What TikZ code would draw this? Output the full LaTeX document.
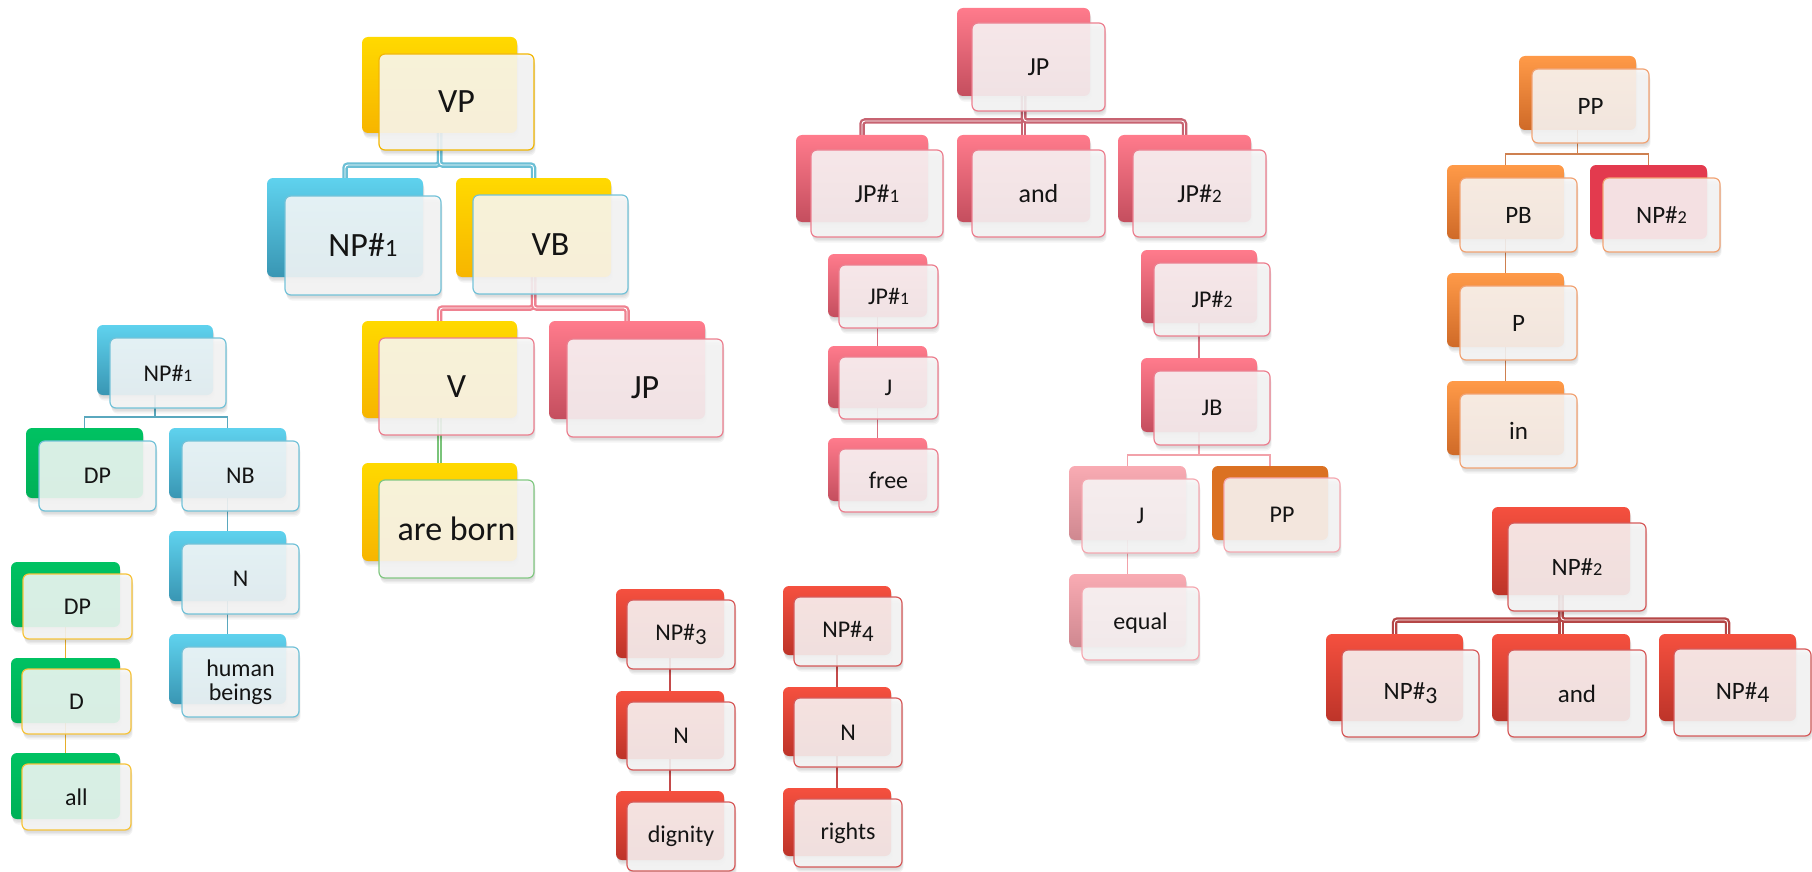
\documentclass[tikz,border=0pt]{standalone}
\usepackage{fontspec}
\setmainfont{Carlito}
% old-style figures: x-height ones and descending ones
\newcommand\fig[1]{\scalebox{0.73}{#1}}
\newcommand\figd[1]{\raisebox{-0.15em}{\scalebox{0.95}{#1}}}
\usetikzlibrary{calc}
\pgfdeclarelayer{bg}
\pgfsetlayers{bg,main}

% back plate gradients
\definecolor{yelT}{HTML}{FFD900}\definecolor{yelB}{HTML}{F7B500}
\definecolor{bluT}{HTML}{5FD2EE}\definecolor{bluB}{HTML}{3996B3}
\definecolor{grnT}{HTML}{00C262}\definecolor{grnB}{HTML}{00B058}
\definecolor{pnkT}{HTML}{FF7B8C}\definecolor{pnkB}{HTML}{C44E5E}
\definecolor{lpkT}{HTML}{F9ABB3}\definecolor{lpkB}{HTML}{CF8890}
\definecolor{orgT}{HTML}{FF9A48}\definecolor{orgB}{HTML}{CF6A28}
\definecolor{burnt}{HTML}{DB7122}
\definecolor{rose}{HTML}{E33A4E}
\definecolor{redT}{HTML}{F5503F}\definecolor{redB}{HTML}{BD3429}
% card borders
\definecolor{yelF}{HTML}{F2B705}
\definecolor{bluF}{HTML}{74C2D8}
\definecolor{grnF}{HTML}{82C882}
\definecolor{pnkF}{HTML}{EC7F8F}
\definecolor{lpkF}{HTML}{F5A9B1}
\definecolor{orgF}{HTML}{F1A374}
\definecolor{redF}{HTML}{D65A5A}
\definecolor{dpF}{HTML}{F6C33A}
% connectors
\definecolor{busBlue}{HTML}{6CBFD5}
\definecolor{busPink}{HTML}{EF8291}
\definecolor{busGreen}{HTML}{7AC47A}
\definecolor{busJP}{HTML}{C76371}
\definecolor{busRed}{HTML}{B54747}
\definecolor{lnBlue}{HTML}{5AA8BE}
\definecolor{lnYel}{HTML}{E7AE2A}
\definecolor{lnPink}{HTML}{D9707F}
\definecolor{lnLpk}{HTML}{F2A2AA}
\definecolor{lnOrg}{HTML}{CE8050}
\definecolor{lnRed}{HTML}{C44A4A}

\tikzset{
  back/.style={rectangle, rounded corners=6pt, anchor=north west,
    inner sep=0pt, outer sep=0pt},
  front/.style={rectangle, rounded corners=6pt, anchor=north west,
    inner sep=0pt, outer sep=0pt, fill=white!97!black, fill opacity=0.88,
    text opacity=1, text=black!92, line width=1.2pt, align=center},
  yel/.style={top color=yelT, bottom color=yelB},
  blu/.style={top color=bluT, bottom color=bluB},
  grn/.style={top color=grnT, bottom color=grnB},
  pnk/.style={top color=pnkT, bottom color=pnkB},
  lpk/.style={top color=lpkT, bottom color=lpkB},
  org/.style={top color=orgT, bottom color=orgB},
  brn/.style={fill=burnt},
  ros/.style={fill=rose},
  red/.style={top color=redT, bottom color=redB},
  bus/.style={line width=2.3pt, double=white, double distance=0.9pt,
    rounded corners=3pt},
  link/.style={line width=1.2pt},
  softshade/.style={fill=black, opacity=0.045, rounded corners=6pt},
}

% #1 name, #2 plate style, #3 card border, #4 x, #5 y, #6 width, #7 height, #8 card offset, #9 label
\newcommand\treebox[9]{%
  % soft shadows of card and plate
  \foreach \s in {1,2,3,4}{
    \fill[softshade] (#4+#8+0.4*\s,#5+#8+1.4*\s) rectangle ++(#6,#7);
    \fill[softshade] (#4+0.4*\s,#5+1.4*\s) rectangle ++(#6,#7);
  }
  \node[back,#2,minimum width=#6,minimum height=#7] (#1b) at (#4,#5) {};
  \node[front,draw=#3,minimum width=#6,minimum height=#7] (#1)
    at ($(#1b.north west)+(#8,#8)$) {#9};}

\begin{document}
\begin{tikzpicture}[x=1pt,y=-1pt]
\useasboundingbox (0,0) rectangle (1812,872);

% ---- VP tree ----
\begin{scope}[font=\fontsize{34}{36}\selectfont]
\treebox{vp}{yel}{yelF}{362}{37}{155}{96}{17}{VP}
\treebox{npa}{blu}{bluF}{267}{178}{156}{99}{18}{NP\#\fig{1}}
\treebox{vbr}{yel}{bluF}{456}{178}{155}{99}{17}{VB}
\treebox{vv}{yel}{pnkF}{362}{321}{155}{97}{17}{V}
\treebox{born}{yel}{grnF}{362}{463}{155}{98}{17}{are born}
\treebox{jpa}{pnk}{pnkF}{549}{321}{156}{98}{18}{JP}
\end{scope}

% ---- NP#1 tree ----
\begin{scope}[font=\fontsize{24}{24}\selectfont]
\treebox{npb}{blu}{bluF}{97}{325}{116}{70}{13}{NP\#\fig{1}}
\treebox{dpa}{grn}{bluF}{26}{428}{117}{70}{13}{DP}
\treebox{nb}{blu}{bluF}{169}{428}{117}{70}{13}{NB}
\treebox{na}{blu}{bluF}{169}{531}{117}{70}{13}{N}
\treebox{hb}{blu}{bluF}{169}{634}{117}{70}{13}{human\\beings}
% DP chain
\treebox{dpb}{grn}{dpF}{11}{562}{109}{65}{12}{DP}
\treebox{d}{grn}{dpF}{11}{658}{109}{65}{11}{D}
\treebox{all}{grn}{dpF}{11}{753}{109}{66}{11}{all}
\end{scope}

% ---- JP tree ----
\begin{scope}[font=\fontsize{26}{26}\selectfont]
\treebox{jp}{pnk}{pnkF}{957}{8}{133}{88}{15}{JP}
\treebox{jpc}{pnk}{pnkF}{796}{135}{132}{87}{15}{JP\#\fig{1}}
\treebox{anda}{pnk}{pnkF}{957}{135}{133}{87}{15}{and}
\treebox{jpd}{pnk}{pnkF}{1118}{135}{133}{87}{15}{JP\#\fig{2}}
\end{scope}
\begin{scope}[font=\fontsize{24}{24}\selectfont]
\treebox{jpe}{pnk}{pnkF}{828}{254}{99}{63}{11}{JP\#\fig{1}}
\treebox{ja}{pnk}{pnkF}{828}{346}{99}{62}{11}{J}
\treebox{free}{pnk}{pnkF}{828}{438}{99}{63}{11}{free}
\treebox{jpf}{pnk}{pnkF}{1141}{250}{116}{73}{13}{JP\#\fig{2}}
\treebox{jbar}{pnk}{pnkF}{1141}{358}{116}{74}{13}{JB}
\treebox{jc}{lpk}{lpkF}{1069}{466}{117}{74}{13}{J}
\treebox{ppx}{brn}{lpkF}{1212}{466}{116}{74}{12}{PP}
\treebox{equal}{lpk}{lpkF}{1069}{574}{117}{73}{13}{equal}
\end{scope}

% ---- PP tree ----
\begin{scope}[font=\fontsize{25}{25}\selectfont]
\treebox{pp}{org}{orgF}{1519}{56}{117}{74}{13}{PP}
\treebox{pbar}{org}{orgF}{1447}{165}{117}{74}{13}{PB}
\treebox{npc}{ros}{orgF}{1590}{165}{117}{74}{13}{NP\#\fig{2}}
\treebox{pa}{org}{orgF}{1447}{273}{117}{74}{13}{P}
\treebox{in}{org}{orgF}{1447}{381}{117}{74}{13}{in}
\end{scope}

% ---- NP#2 tree ----
\begin{scope}[font=\fontsize{25}{25}\selectfont]
\treebox{npd}{red}{redF}{1492}{507}{138}{88}{16}{NP\#\fig{2}}
\treebox{npe}{red}{redF}{1326}{634}{137}{87}{16}{NP\#\figd{3}}
\treebox{andb}{red}{redF}{1492}{634}{138}{87}{16}{and}
\treebox{npf}{red}{redF}{1659}{634}{137}{87}{15}{NP\#\figd{4}}
\end{scope}

% ---- NP#3 / NP#4 chains ----
\begin{scope}[font=\fontsize{24}{24}\selectfont]
\treebox{npg}{red}{redF}{616}{589}{108}{69}{11}{NP\#\figd{3}}
\treebox{nc}{red}{redF}{616}{691}{108}{68}{11}{N}
\treebox{dig}{red}{redF}{616}{791}{108}{69}{11}{dignity}
\treebox{nph}{red}{redF}{783}{586}{108}{69}{11}{NP\#\figd{4}}
\treebox{nd}{red}{redF}{783}{687}{108}{69}{11}{N}
\treebox{rights}{red}{redF}{783}{788}{108}{68}{11}{rights}
\end{scope}

% ---- connectors (behind the cards) ----
\begin{pgfonlayer}{bg}
% VP tree
\draw[bus,draw=busBlue] (vpb.south) -- ++(0,32) -| (npab.north);
\draw[bus,draw=busBlue] (vpb.south) -- ++(0,32) -| (vbrb.north);
\draw[bus,draw=busPink] (vbrb.south) -- ++(0,31) -| (vvb.north);
\draw[bus,draw=busPink] (vbrb.south) -- ++(0,31) -| (jpab.north);
\draw[bus,draw=busGreen] (vvb.south) -- (bornb.north);
% NP#1 tree
\draw[link,draw=lnBlue] (npbb.south) -- ++(0,22) -| (dpab.north);
\draw[link,draw=lnBlue] (npbb.south) -- ++(0,22) -| (nbb.north);
\draw[link,draw=lnBlue] (nbb.south) -- (nab.north);
\draw[link,draw=lnBlue] (nab.south) -- (hbb.north);
\draw[link,draw=lnYel] (dpbb.south) -- (db.north);
\draw[link,draw=lnYel] (db.south) -- (allb.north);
% JP tree
\draw[bus,draw=busJP] (jpb.south) -- ++(0,25) -| (jpcb.north);
\draw[bus,draw=busJP] (jpb.south) -- ++(0,25) -| (andab.north);
\draw[bus,draw=busJP] (jpb.south) -- ++(0,25) -| (jpdb.north);
\draw[link,draw=lnPink] (jpeb.south) -- (jab.north);
\draw[link,draw=lnPink] (jab.south) -- (freeb.north);
\draw[link,draw=lnPink] (jpfb.south) -- (jbarb.north);
\draw[link,draw=lnLpk] (jbarb.south) -- ++(0,23) -| (jcb.north);
\draw[link,draw=lnLpk] (jbarb.south) -- ++(0,23) -| (ppxb.north);
\draw[link,draw=lnLpk] (jcb.south) -- (equalb.north);
% PP tree
\draw[link,draw=lnOrg] (ppb.south) -- ++(0,24) -| (pbarb.north);
\draw[link,draw=lnOrg] (ppb.south) -- ++(0,24) -| (npcb.north);
\draw[link,draw=lnOrg] (pbarb.south) -- (pab.north);
\draw[link,draw=lnOrg] (pab.south) -- (inb.north);
% NP#2 tree
\draw[bus,draw=busRed] (npdb.south) -- ++(0,25) -| (npeb.north);
\draw[bus,draw=busRed] (npdb.south) -- ++(0,25) -| (andbb.north);
\draw[bus,draw=busRed] (npdb.south) -- ++(0,25) -| (npfb.north);
% NP#3 / NP#4 chains
\draw[link,draw=lnRed] (npgb.south) -- (ncb.north);
\draw[link,draw=lnRed] (ncb.south) -- (digb.north);
\draw[link,draw=lnRed] (nphb.south) -- (ndb.north);
\draw[link,draw=lnRed] (ndb.south) -- (rightsb.north);
\end{pgfonlayer}
\end{tikzpicture}
\end{document}
